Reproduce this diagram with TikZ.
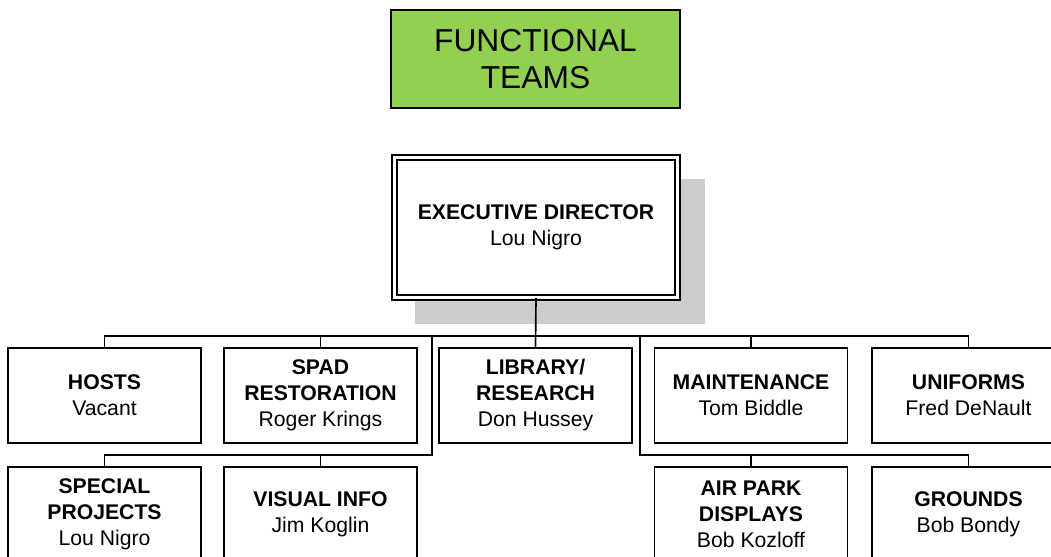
\documentclass[tikz,border=0pt]{standalone}
\usepackage{fontspec}
\setmainfont{Liberation Sans}
\definecolor{titlegreen}{HTML}{92D050}
\definecolor{shadowgray}{HTML}{CCCCCC}
\begin{document}
\begin{tikzpicture}[x=0.75pt,y=-0.75pt,
  unitbox/.style={draw=black, line width=1.1pt, fill=white, minimum width=144.75pt, minimum height=71.25pt, inner sep=0pt, align=center, font=\fontsize{15.9}{19.5}\selectfont},
  titlebox/.style={draw=black, line width=1.2pt, fill=titlegreen, minimum width=216.75pt, minimum height=73.5pt, inner sep=0pt, align=center, font=\fontsize{23.8}{27.5}\selectfont},
  execbox/.style={draw=black, double=white, double distance=2.6pt, line width=1.1pt, fill=white, minimum width=212.25pt, minimum height=105pt, inner sep=0pt, align=center, font=\fontsize{15.9}{19.5}\selectfont},
  link/.style={draw=black, line width=1.25pt}
]
\path[use as bounding box, clip] (0,0) rectangle (1051,557);

\node[titlebox] (title) at (535.5,59) {FUNCTIONAL\\TEAMS};

\fill[shadowgray] (415,179) rectangle (705,324);
\node[execbox] (exec) at (536,227.5) {\textbf{EXECUTIVE DIRECTOR}\\Lou Nigro};

\node[unitbox] (hosts) at (104.5,395.5) {\textbf{HOSTS}\\Vacant};
\node[unitbox] (spad)  at (320.5,395.5) {\textbf{SPAD}\\\textbf{RESTORATION}\\Roger Krings};
\node[unitbox] (lib)   at (535.5,395.5) {\textbf{LIBRARY/}\\\textbf{RESEARCH}\\Don Hussey};
\node[unitbox] (maint) at (751,395.5) {\textbf{MAINTENANCE}\\Tom Biddle};
\node[unitbox] (unif)  at (968.5,395.5) {\textbf{UNIFORMS}\\Fred DeNault};

\node[unitbox] (special) at (104.5,514.5) {\textbf{SPECIAL}\\\textbf{PROJECTS}\\Lou Nigro};
\node[unitbox] (visual)  at (320.5,514.5) {\textbf{VISUAL INFO}\\Jim Koglin};
\node[unitbox] (air)     at (751,514.5) {\textbf{AIR PARK}\\\textbf{DISPLAYS}\\Bob Kozloff};
\node[unitbox] (grounds) at (968.5,514.5) {\textbf{GROUNDS}\\Bob Bondy};

\coordinate (bus) at (536,336);
\coordinate (ltop) at (432,336);
\coordinate (lbot) at (432,455);
\coordinate (rtop) at (640,336);
\coordinate (rbot) at (640,455);

\draw[link] (exec.south) -- (lib.north);
\draw[link] (hosts.north) -- (hosts.north |- bus) -- (unif.north |- bus) -- (unif.north);
\draw[link] (spad.north) -- (spad.north |- bus);
\draw[link] (maint.north) -- (maint.north |- bus);

\draw[link] (ltop) -- (lbot) -- (special.north |- lbot) -- (special.north);
\draw[link] (visual.north) -- (visual.north |- lbot);

\draw[link] (rtop) -- (rbot) -- (grounds.north |- rbot) -- (grounds.north);
\draw[link] (air.north) -- (air.north |- rbot);
\end{tikzpicture}
\end{document}
